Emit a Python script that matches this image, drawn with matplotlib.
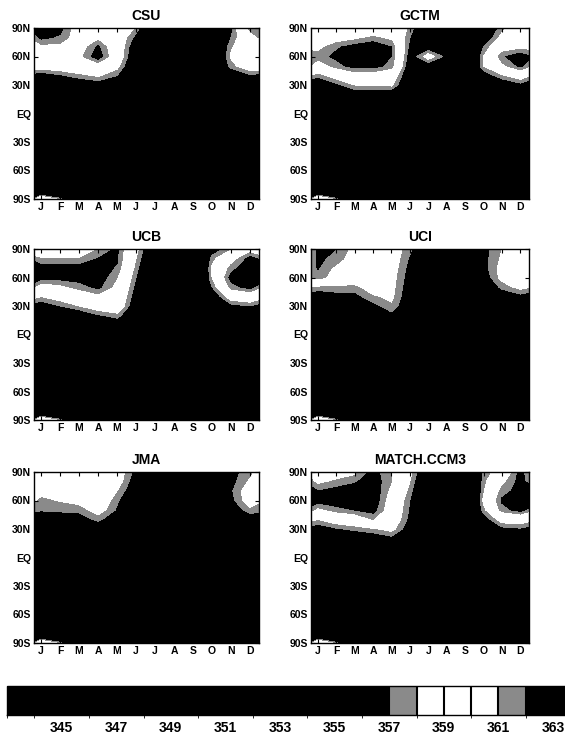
import numpy as np
import matplotlib
matplotlib.use("Agg")
import matplotlib.pyplot as plt
from matplotlib.colors import ListedColormap, BoundaryNorm
import matplotlib as mpl

plt.rcParams['font.family'] = ['Liberation Sans', 'DejaVu Sans']
plt.rcParams['font.weight'] = 'bold'

# ---------------- data ----------------
months = ['J', 'F', 'M', 'A', 'M', 'J', 'J', 'A', 'S', 'O', 'N', 'D']
lat_nodes = [90, 80, 70, 60, 50, 40, 30, 20, 0, -85, -90]
lat_ticks = [90, 60, 30, 0, -30, -60, -90]
lat_labels = ['90N', '60N', '30N', 'EQ', '30S', '60S', '90S']

# CO2 (ppm) per month (J..D); each list = values at lat_nodes
csu = [
    [362.6, 362.3, 360.5, 360.0, 359.0, 356.0, 355.0, 354.0, 353.0, 356.0, 360.5],
    [362.4, 361.8, 360.5, 360.0, 359.2, 356.8, 355.2, 354.2, 353.0, 354.5, 357.5],
    [360.0, 360.0, 360.0, 360.5, 359.5, 357.6, 355.5, 354.5, 353.0, 352.0, 352.0],
    [360.0, 360.5, 362.2, 362.8, 360.0, 358.2, 356.0, 354.8, 353.2, 352.0, 352.0],
    [360.0, 359.5, 359.5, 359.5, 358.5, 357.0, 355.8, 354.8, 353.2, 352.0, 352.0],
    [357.8, 356.5, 355.5, 355.0, 354.5, 354.0, 354.0, 354.0, 353.0, 352.0, 352.0],
    [353.0, 352.5, 352.0, 352.0, 352.0, 352.5, 353.0, 353.0, 352.5, 352.0, 352.0],
    [351.0, 350.5, 350.0, 350.5, 351.0, 351.5, 352.0, 352.5, 352.5, 352.0, 352.0],
    [351.0, 350.5, 350.0, 350.5, 351.0, 351.5, 352.0, 352.5, 352.5, 352.0, 352.0],
    [353.5, 353.5, 353.5, 353.5, 353.5, 353.0, 353.0, 353.0, 352.5, 352.0, 352.0],
    [356.5, 357.0, 357.8, 358.2, 357.5, 355.5, 354.5, 354.0, 353.0, 352.0, 352.0],
    [361.5, 360.0, 359.5, 360.0, 359.2, 356.8, 355.0, 354.0, 353.0, 352.0, 352.5],
]
gctm = [
    [359.5, 359.5, 360.5, 361.5, 360.0, 357.3, 355.5, 354.5, 353.5, 356.0, 360.5],
    [359.5, 360.0, 361.8, 362.3, 361.5, 358.8, 356.6, 355.0, 353.5, 354.5, 357.5],
    [359.5, 360.5, 362.5, 363.0, 362.5, 360.0, 358.0, 355.8, 353.5, 352.0, 352.0],
    [359.5, 361.2, 363.0, 363.0, 362.5, 360.0, 358.2, 355.5, 353.5, 352.0, 352.0],
    [359.0, 360.5, 362.0, 362.0, 361.5, 359.5, 358.3, 355.5, 353.5, 352.0, 352.0],
    [357.8, 357.0, 356.5, 356.0, 355.5, 355.0, 354.5, 354.0, 353.0, 352.0, 352.0],
    [354.0, 355.0, 356.0, 358.8, 356.0, 354.0, 353.5, 353.5, 353.0, 352.0, 352.0],
    [352.0, 352.5, 353.0, 356.5, 353.0, 352.5, 352.5, 352.5, 352.5, 352.0, 352.0],
    [352.5, 352.5, 352.5, 352.5, 352.5, 352.5, 352.5, 352.5, 352.5, 352.0, 352.0],
    [355.0, 355.5, 357.0, 358.0, 358.0, 356.0, 354.5, 354.0, 353.0, 352.0, 352.0],
    [357.5, 358.5, 360.0, 361.8, 360.5, 357.8, 355.5, 354.5, 353.0, 352.0, 352.0],
    [359.5, 360.0, 360.5, 362.8, 362.3, 359.0, 356.5, 355.0, 353.5, 352.0, 352.5],
]
ucb = [
    [360.0, 361.0, 362.5, 362.5, 360.0, 358.0, 356.0, 355.0, 353.5, 356.0, 360.5],
    [359.5, 361.0, 362.5, 362.5, 360.5, 358.8, 357.0, 355.0, 353.5, 354.5, 357.5],
    [359.5, 361.0, 362.5, 362.5, 361.5, 359.5, 358.0, 355.5, 353.5, 352.0, 352.0],
    [361.0, 362.0, 362.8, 362.8, 362.3, 360.5, 359.0, 356.8, 353.5, 352.0, 352.0],
    [362.2, 362.2, 361.8, 361.0, 360.5, 360.0, 359.5, 357.5, 354.0, 352.0, 352.0],
    [358.5, 358.0, 357.5, 357.0, 356.5, 356.0, 355.5, 355.0, 353.5, 352.0, 352.0],
    [354.5, 354.0, 353.5, 353.5, 353.5, 353.5, 353.5, 353.5, 353.0, 352.0, 352.0],
    [352.0, 351.5, 351.0, 351.5, 352.0, 352.5, 353.0, 353.0, 352.5, 352.0, 352.0],
    [352.0, 351.5, 351.0, 351.5, 352.0, 352.5, 353.0, 353.0, 352.5, 352.0, 352.0],
    [356.0, 357.5, 358.2, 358.0, 357.0, 355.5, 354.5, 354.0, 353.0, 352.0, 352.0],
    [357.8, 360.0, 361.5, 362.5, 361.5, 359.0, 356.5, 355.0, 353.5, 352.0, 352.0],
    [360.0, 362.5, 363.0, 363.0, 362.5, 359.5, 357.0, 355.0, 353.5, 352.0, 352.5],
]
uci = [
    [362.1, 362.2, 362.1, 361.6, 357.6, 356.0, 355.0, 354.5, 353.5, 356.0, 360.5],
    [362.0, 361.7, 360.6, 360.2, 357.6, 356.5, 355.0, 354.5, 353.5, 354.5, 357.5],
    [360.5, 360.0, 359.5, 359.2, 357.6, 356.5, 355.0, 354.5, 353.5, 352.0, 352.0],
    [359.5, 359.3, 359.0, 359.0, 358.8, 357.8, 356.5, 355.5, 353.5, 352.0, 352.0],
    [359.0, 359.0, 358.8, 358.6, 358.5, 358.3, 357.8, 356.5, 354.0, 352.0, 352.0],
    [357.3, 356.8, 356.5, 356.3, 356.0, 355.8, 355.5, 355.0, 353.5, 352.0, 352.0],
    [354.5, 354.0, 353.5, 353.5, 353.5, 353.5, 353.5, 353.5, 353.0, 352.0, 352.0],
    [352.0, 351.5, 351.0, 351.5, 352.0, 352.5, 353.0, 353.0, 352.5, 352.0, 352.0],
    [352.0, 351.5, 351.0, 351.5, 352.0, 352.5, 353.0, 353.0, 352.5, 352.0, 352.0],
    [356.5, 356.5, 356.5, 356.0, 355.5, 355.0, 354.5, 354.0, 353.0, 352.0, 352.0],
    [358.0, 358.2, 358.5, 358.5, 357.3, 356.0, 355.0, 354.5, 353.0, 352.0, 352.0],
    [359.5, 359.5, 359.8, 360.0, 358.5, 356.5, 355.5, 354.5, 353.5, 352.0, 352.5],
]
jma = [
    [359.5, 359.3, 358.5, 357.6, 357.1, 356.0, 355.0, 354.5, 353.5, 356.0, 360.5],
    [359.5, 359.5, 359.0, 358.1, 357.2, 356.2, 355.0, 354.5, 353.5, 354.5, 357.5],
    [359.8, 359.8, 359.5, 358.6, 357.2, 356.5, 355.2, 354.5, 353.5, 352.0, 352.0],
    [360.0, 360.0, 360.0, 359.5, 358.8, 357.2, 356.0, 355.0, 353.5, 352.0, 352.0],
    [359.0, 358.8, 358.0, 357.2, 356.8, 356.3, 355.5, 355.0, 353.5, 352.0, 352.0],
    [356.5, 356.0, 355.5, 355.0, 354.5, 354.5, 354.5, 354.0, 353.0, 352.0, 352.0],
    [354.5, 354.0, 353.5, 353.5, 353.5, 353.5, 353.5, 353.5, 353.0, 352.0, 352.0],
    [352.0, 351.5, 351.0, 351.5, 352.0, 352.5, 353.0, 353.0, 352.5, 352.0, 352.0],
    [352.0, 351.5, 351.0, 351.5, 352.0, 352.5, 353.0, 353.0, 352.5, 352.0, 352.0],
    [354.5, 354.5, 354.5, 354.5, 354.0, 353.5, 353.5, 353.5, 353.0, 352.0, 352.0],
    [356.5, 356.5, 356.8, 356.5, 356.0, 355.0, 354.5, 354.0, 353.0, 352.0, 352.0],
    [357.6, 358.2, 359.0, 359.0, 357.6, 356.0, 355.0, 354.5, 353.5, 352.0, 352.5],
]
match_ccm3 = [
    [359.5, 360.5, 362.0, 362.5, 360.5, 358.0, 356.0, 355.0, 353.5, 356.0, 360.5],
    [360.0, 361.2, 362.5, 362.8, 361.5, 359.0, 356.8, 355.0, 353.5, 354.5, 357.5],
    [360.5, 361.8, 362.8, 363.0, 362.0, 359.5, 357.3, 355.5, 353.5, 352.0, 352.0],
    [362.5, 362.8, 363.0, 363.0, 362.5, 361.0, 357.8, 355.8, 353.5, 352.0, 352.0],
    [361.0, 361.0, 360.5, 360.0, 359.8, 359.5, 358.5, 356.5, 354.0, 352.0, 352.0],
    [358.5, 358.0, 357.5, 357.0, 356.8, 356.5, 356.0, 355.5, 353.5, 352.0, 352.0],
    [354.5, 354.0, 353.5, 353.5, 353.5, 353.5, 353.5, 353.5, 353.0, 352.0, 352.0],
    [352.0, 351.5, 351.0, 351.5, 352.0, 352.5, 353.0, 353.0, 352.5, 352.0, 352.0],
    [352.0, 351.5, 351.0, 351.5, 352.0, 352.5, 353.0, 353.0, 352.5, 352.0, 352.0],
    [357.2, 357.5, 357.8, 358.3, 357.5, 356.0, 355.0, 354.5, 353.0, 352.0, 352.0],
    [359.0, 360.5, 361.5, 362.2, 361.5, 358.8, 356.5, 355.0, 353.5, 352.0, 352.0],
    [362.5, 362.5, 362.5, 363.0, 362.5, 359.0, 356.8, 355.0, 353.5, 352.0, 352.5],
]

titles = ['CSU', 'GCTM', 'UCB', 'UCI', 'JMA', 'MATCH.CCM3']
fields = [csu, gctm, ucb, uci, jma, match_ccm3]

cbar_bounds = list(range(343, 365))
cbar_ticks = list(range(345, 364, 2))

# ---------------- styling ----------------
BLACK = '#000000'
GRAY = '#8a8a8a'
WHITE = '#ffffff'


def band_color(lo):
    if lo == 357 or lo == 361:
        return GRAY
    if 358 <= lo <= 360:
        return WHITE
    return BLACK


W, H = 565, 739
fig = plt.figure(figsize=(W / 100, H / 100), dpi=100)
fig.patch.set_facecolor('white')

col_x = [(34, 259), (311, 529)]
row_y = [(28, 199), (249, 420), (472, 643)]

# merged bands for the maps (avoid seams between equal colours)
map_levels = [330, 357, 358, 361, 362, 370]
map_colors = [band_color(l) for l in [343, 357, 358, 361, 363]]

x_nodes = np.arange(0, 14)
lat_arr = np.array(lat_nodes)[::-1]

for i, (title, fld) in enumerate(zip(titles, fields)):
    r, c = divmod(i, 2)
    x0, x1 = col_x[c]
    y0, y1 = row_y[r]
    ax = fig.add_axes([x0 / W, 1 - y1 / H, (x1 - x0) / W, (y1 - y0) / H])
    z = np.array(fld).T  # lat x month
    z = np.concatenate([z[:, -1:], z, z[:, :1]], axis=1)  # periodic wrap
    z = z[::-1, :]
    ax.contourf(x_nodes, lat_arr, z, levels=map_levels, colors=map_colors,
                antialiased=False)
    ax.set_xlim(0.63, 12.47)
    ax.set_ylim(-90, 90)
    ax.set_xticks(range(1, 13))
    ax.set_xticklabels(months, fontsize=7.5, fontweight='bold')
    ax.set_yticks(lat_ticks)
    ax.set_yticklabels(lat_labels, fontsize=7.5, fontweight='bold')
    ax.tick_params(direction='in', length=3, width=0.8, top=True, right=True,
                   pad=2)
    for s in ax.spines.values():
        s.set_linewidth(1.0)
    ax.set_title(title, fontsize=10, fontweight='bold', pad=6)

# colorbar
cb_left = 7
unit_px = 27.3
cb_w = (cbar_bounds[-1] - cbar_bounds[0]) * unit_px
cax = fig.add_axes([cb_left / W, 1 - 715 / H, cb_w / W, 29 / H])
cell_colors = [band_color(b) for b in cbar_bounds[:-1]]
cmap = ListedColormap(cell_colors)
norm = BoundaryNorm(cbar_bounds, cmap.N)
cb = mpl.colorbar.ColorbarBase(cax, cmap=cmap, norm=norm, orientation='horizontal',
                               ticks=cbar_ticks, drawedges=True)
cb.dividers.set_color('black')
cb.dividers.set_linewidth(1.5)
cb.outline.set_linewidth(1.0)
cax.tick_params(length=0, pad=4, labelsize=10)
for t in cax.get_xticklabels():
    t.set_fontweight('bold')

fig.savefig('out.png', dpi=100)
